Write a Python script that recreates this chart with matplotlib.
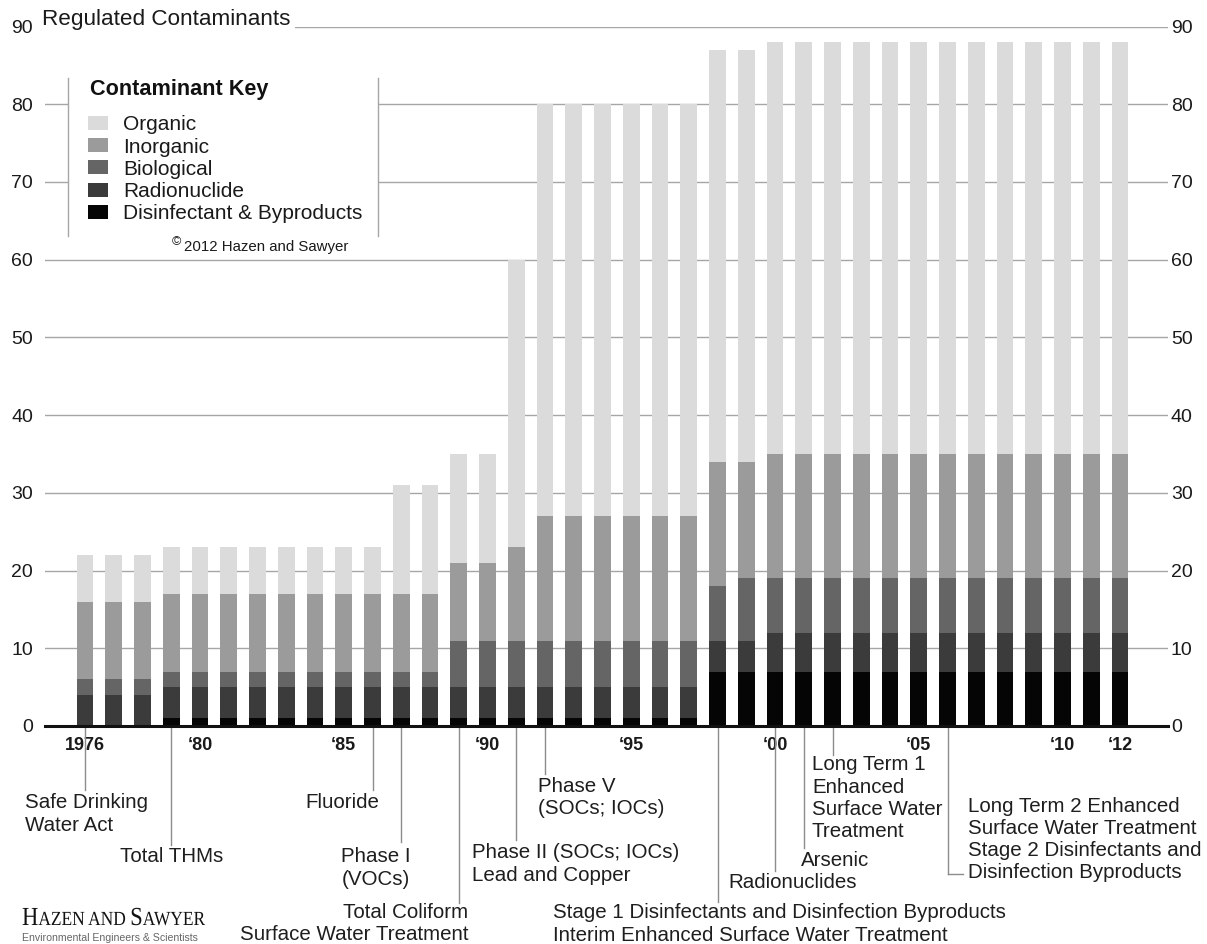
import matplotlib
matplotlib.use("Agg")
import matplotlib.pyplot as plt
from matplotlib import transforms
from matplotlib.patches import Rectangle, PathPatch
from matplotlib.textpath import TextPath, TextToPath
from matplotlib.font_manager import FontProperties

plt.rcParams['font.family'] = ['Liberation Sans', 'DejaVu Sans']

W, H = 1207, 944

# regulated contaminant counts per year, by class
years = list(range(1976, 2013))
disinfectant = [0, 0, 0,
                1, 1, 1, 1, 1, 1, 1, 1, 1, 1, 1, 1, 1, 1, 1, 1, 1, 1, 1,
                7, 7, 7, 7, 7, 7, 7, 7, 7, 7, 7, 7, 7, 7, 7]
radionuclide = [4, 4, 4,
                4, 4, 4, 4, 4, 4, 4, 4, 4, 4, 4, 4, 4, 4, 4, 4, 4, 4, 4,
                4, 4, 5, 5, 5, 5, 5, 5, 5, 5, 5, 5, 5, 5, 5]
biological = [2, 2, 2,
              2, 2, 2, 2, 2, 2, 2, 2, 2, 2, 6, 6, 6, 6, 6, 6, 6, 6, 6,
              7, 8, 7, 7, 7, 7, 7, 7, 7, 7, 7, 7, 7, 7, 7]
inorganic = [10, 10, 10,
             10, 10, 10, 10, 10, 10, 10, 10, 10, 10, 10, 10, 12, 16, 16, 16, 16, 16, 16,
             16, 15, 16, 16, 16, 16, 16, 16, 16, 16, 16, 16, 16, 16, 16]
organic = [6, 6, 6,
           6, 6, 6, 6, 6, 6, 6, 6, 14, 14, 14, 14, 37, 53, 53, 53, 53, 53, 53,
           53, 53, 53, 53, 53, 53, 53, 53, 53, 53, 53, 53, 53, 53, 53]

series = [disinfectant, radionuclide, biological, inorganic, organic]
series_names = ['Disinfectant & Byproducts', 'Radionuclide', 'Biological',
                'Inorganic', 'Organic']
series_colors = ['#050505', '#3b3b3b', '#656565', '#9b9b9b', '#dbdbdb']

tick_years = [1976, 1980, 1985, 1990, 1995, 2000, 2005, 2010, 2012]
tick_labels = ['1976', '\u201880', '\u201885', '\u201890', '\u201895',
               '\u201800', '\u201805', '\u201810', '\u201812']

# (year, line end px, text lines, text x px, first line y px, alignment)
milestones = [
    (1976, 790, ['Safe Drinking', 'Water Act'], 25, 803, 'left'),
    (1979, 845, ['Total THMs'], 172, 857, 'center'),
    (1986, 790, ['Fluoride'], 342, 803, 'center'),
    (1987, 842, ['Phase I', '(VOCs)'], 376, 857, 'center'),
    (1989, 903, ['Total Coliform', 'Surface Water Treatment'], 468, 912, 'right'),
    (1991, 840, ['Phase II (SOCs; IOCs)', 'Lead and Copper'], 472, 853, 'left'),
    (1992, 774, ['Phase V', '(SOCs; IOCs)'], 538, 786, 'left'),
    (1998, 902, ['Stage 1 Disinfectants and Disinfection Byproducts',
                 'Interim Enhanced Surface Water Treatment'], 553, 913, 'left'),
    (2000, 871, ['Radionuclides'], 793, 882, 'center'),
    (2001, 848, ['Arsenic'], 835, 860, 'center'),
    (2002, 755, ['Long Term 1', 'Enhanced', 'Surface Water', 'Treatment'], 812, 765, 'left'),
    (2006, 874, ['Long Term 2 Enhanced', 'Surface Water Treatment',
                 'Stage 2 Disinfectants and', 'Disinfection Byproducts'], 968, 806, 'left'),
]

fig = plt.figure(figsize=(W / 100, H / 100), dpi=100)

# axes placed in pixel terms
ax_l, ax_r = 45, 1168
y0_px, y90_px = 726, 26.5
ax = fig.add_axes([ax_l / W, 1 - y0_px / H, (ax_r - ax_l) / W, (y0_px - y90_px) / H])
px_per_year = 28.75
ax.set_xlim(1976 - (85 - ax_l) / px_per_year, 2012 + (ax_r - 1120) / px_per_year)
ax.set_ylim(0, 90)

bottom = [0] * len(years)
bars = []
for vals, name, col in zip(series, series_names, series_colors):
    b = ax.bar(years, vals, bottom=bottom, width=0.58, color=col, label=name,
               linewidth=0, zorder=2)
    bars.append(b)
    bottom = [a + v for a, v in zip(bottom, vals)]

yticks = list(range(0, 100, 10))
ax.set_yticks(yticks)
ax.grid(axis='y', color='#a6a6a6', linewidth=1)
ax.set_axisbelow(True)
for s in ['top', 'left', 'right']:
    ax.spines[s].set_visible(False)
ax.spines['bottom'].set_linewidth(2.2)
ax.spines['bottom'].set_color('#111111')
ax.spines['bottom'].set_zorder(3)
ax.tick_params(axis='y', length=0, labelsize=14, pad=8.5, labelcolor='#1a1a1a')
ax.set_xticks(tick_years)
ax.set_xticklabels(tick_labels, fontweight='bold', fontsize=13, color='#1a1a1a')
ax.tick_params(axis='x', length=0, pad=8)

# right side labels sit tight against the grid lines
axr = ax.twinx()
axr.set_ylim(ax.get_ylim())
axr.set_yticks(yticks)
axr.tick_params(axis='y', length=0, labelsize=14, pad=2, labelcolor='#1a1a1a')
for s in axr.spines.values():
    s.set_visible(False)

# pixel coordinate transform (origin top-left)
px = transforms.Affine2D().scale(1 / W, -1 / H).translate(0, 1) + fig.transFigure
yr_px = transforms.blended_transform_factory(ax.transData, px)

line_kw = dict(color='#8c8c8c', linewidth=1, clip_on=False, transform=yr_px)
text_kw = dict(fontsize=14.8, color='#1e1e1e', va='center', transform=px)
pitch = 22.3
for year, y_end, lines, tx, ty, ha in milestones:
    ax.plot([year, year], [y0_px + 1, y_end], **line_kw)
    for i, s in enumerate(lines):
        fig.text(tx, ty + i * pitch, s, ha=ha, **text_kw)
# elbow into the last milestone text
ax.plot([2006, 2006 + 15 / px_per_year], [874, 874], **line_kw)

# title on the top grid line
fig.text(42, 20, 'Regulated Contaminants', fontsize=16.2, color='#1a1a1a',
         va='center', ha='left', transform=px,
         bbox=dict(facecolor='white', edgecolor='none', pad=3))

# key box
fig.add_artist(Rectangle((68 / W, 1 - 236 / H), 310 / W, 158 / H,
                         facecolor='white', edgecolor='none',
                         transform=fig.transFigure, zorder=1))
for xx in (68, 378):
    fig.add_artist(plt.Line2D([xx / W, xx / W], [1 - 78 / H, 1 - 236 / H],
                              color='#a6a6a6', linewidth=1,
                              transform=fig.transFigure, zorder=1.5))
fig.text(90, 90, 'Contaminant Key', fontsize=15.6, fontweight='bold',
         color='#111111', va='center', ha='left', transform=px, zorder=5)
leg = fig.legend(handles=bars[::-1], loc='upper left',
                 bbox_to_anchor=(88 / W, 1 - 115.5 / H), bbox_transform=fig.transFigure,
                 frameon=False, fontsize=15,
                 borderpad=0, borderaxespad=0,
                 handlelength=0.96, handleheight=0.65, handletextpad=0.72,
                 labelspacing=0.15)
leg.set_zorder(5)
for t in leg.get_texts():
    t.set_color('#1a1a1a')

fig.text(172, 242, '\u00a9', fontsize=9, color='#1a1a1a', va='center', transform=px)
fig.text(184, 247, '2012 Hazen and Sawyer', fontsize=10.8, color='#1a1a1a',
         va='center', transform=px)

# company mark, set in narrowed small caps
serif = FontProperties(family='Liberation Serif')
ttp = TextToPath()
x = 22
squeeze = 0.87
for s, size in [('H', 26), ('AZEN AND ', 20), ('S', 26), ('AWYER', 20)]:
    prop = serif.copy()
    prop.set_size(size)
    path = TextPath((0, 0), s, prop=prop)
    tr = transforms.Affine2D().scale(squeeze, -1).translate(x, 925) + px
    fig.add_artist(PathPatch(path, facecolor='#111111', edgecolor='none', transform=tr))
    w, _, _ = ttp.get_text_width_height_descent(s, prop, ismath=False)
    x += w * squeeze
fig.text(22, 938, 'Environmental Engineers & Scientists', fontsize=7.6,
         color='#666666', va='center', ha='left', transform=px)

fig.savefig('out.png', dpi=100, facecolor='white')
